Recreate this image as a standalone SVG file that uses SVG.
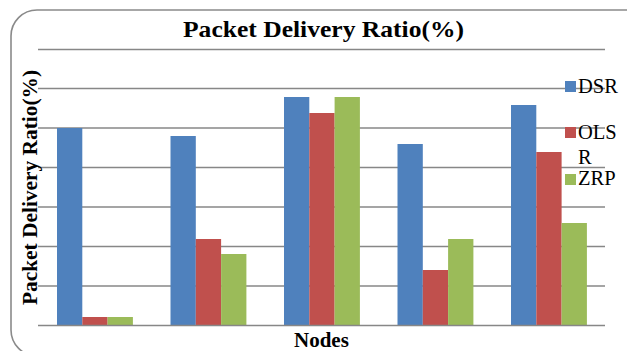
<svg xmlns="http://www.w3.org/2000/svg" width="627" height="351" viewBox="0 0 627 351">
<defs>
<rect id="legmark" width="11" height="11"/>
</defs>
<rect id="frame" x="11" y="10" width="640" height="346" rx="26" ry="26" fill="#fff" stroke="#8a8a8a" stroke-width="1.6"/>
<text id="title" font-family="Liberation Serif" font-weight="bold" x="183" y="37" font-size="23.5" textLength="281" lengthAdjust="spacingAndGlyphs">Packet Delivery Ratio(%)</text>
<g id="gridlines" stroke="#878787" stroke-width="1.6" fill="none">
<line x1="38" y1="49.5" x2="605" y2="49.5"/>
<line x1="38" y1="88.5" x2="605" y2="88.5"/>
<line x1="38" y1="128" x2="605" y2="128"/>
<line x1="38" y1="167.5" x2="605" y2="167.5"/>
<line x1="38" y1="207" x2="605" y2="207"/>
<line x1="38" y1="246.5" x2="605" y2="246.5"/>
<line x1="38" y1="286" x2="605" y2="286"/>
</g>
<g id="bars">
<g id="dsr-bars" fill="#4F81BD">
<rect x="57" y="128" width="25.3" height="197"/>
<rect x="170.5" y="136" width="25.3" height="189"/>
<rect x="284" y="97" width="25.3" height="228"/>
<rect x="397.5" y="144" width="25.3" height="181"/>
<rect x="511" y="105" width="25.3" height="220"/>
</g>
<g id="olsr-bars" fill="#C0504D">
<rect x="82.3" y="317" width="25.3" height="8"/>
<rect x="195.8" y="239" width="25.3" height="86"/>
<rect x="309.3" y="113" width="25.3" height="212"/>
<rect x="422.8" y="270" width="25.3" height="55"/>
<rect x="536.3" y="152" width="25.3" height="173"/>
</g>
<g id="zrp-bars" fill="#9BBB59">
<rect x="107.6" y="317" width="25.3" height="8"/>
<rect x="221.1" y="254" width="25.3" height="71"/>
<rect x="334.6" y="97" width="25.3" height="228"/>
<rect x="448.1" y="239" width="25.3" height="86"/>
<rect x="561.6" y="223" width="25.3" height="102"/>
</g>
</g>
<line id="baseline" x1="38" y1="325.5" x2="605" y2="325.5" stroke="#878787" stroke-width="1.6"/>
<text id="ylabel" font-family="Liberation Serif" font-weight="bold" font-size="21" transform="translate(37,305) rotate(-90)" textLength="235" lengthAdjust="spacingAndGlyphs">Packet Delivery Ratio(%)</text>
<text id="xlabel" font-family="Liberation Serif" font-weight="bold" x="294" y="347" font-size="21">Nodes</text>
<g id="legend">
<use href="#legmark" x="565" y="81" fill="#4F81BD"/>
<text font-family="Liberation Serif" font-size="20.5" x="578" y="93">DSR</text>
<use href="#legmark" x="565" y="127" fill="#C0504D"/>
<text font-family="Liberation Serif" font-size="20.5" x="578" y="139">OLS</text>
<text font-family="Liberation Serif" font-size="20.5" x="578" y="164">R</text>
<use href="#legmark" x="565" y="174" fill="#9BBB59"/>
<text font-family="Liberation Serif" font-size="20.5" x="578" y="185">ZRP</text>
</g>
</svg>
